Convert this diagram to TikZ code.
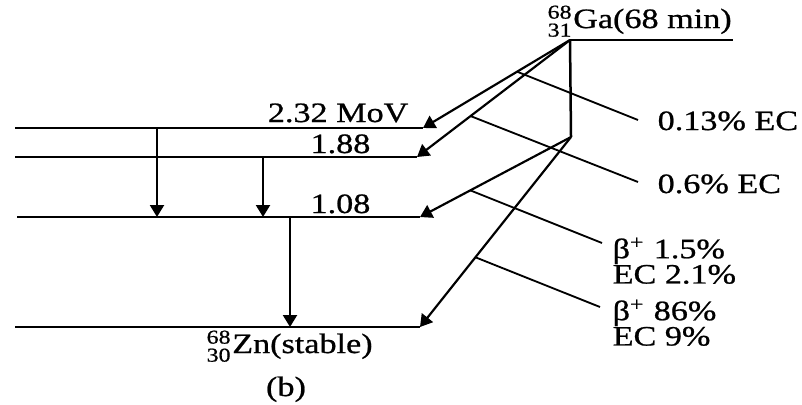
\documentclass[tikz,border=0pt]{standalone}
\usepackage{amsmath}
\usepackage{fontspec}
\setmainfont{Liberation Serif}[FakeStretch=1.22,FakeBold=0.8]
\usetikzlibrary{arrows.meta,calc}
\begin{document}
\begin{tikzpicture}[x=0.3pt,y=-0.3pt,
  level/.style={line width=0.75pt},
  trans/.style={line width=0.65pt,-{Triangle[length=3.6pt,width=4.2pt]}},
  leader/.style={line width=0.55pt},
  txt/.style={inner sep=0pt,font=\fontsize{8.4}{9}\selectfont},
  lbl/.style={txt,align=left,font=\fontsize{8.4}{7.6}\selectfont}]
\useasboundingbox (0,0) rectangle (802,404);
% levels
\coordinate (gaL) at (570,40);  \coordinate (gaR) at (733,40);
\coordinate (bend) at (571,137);
\coordinate (aL) at (15,128);  \coordinate (aR) at (423,128);
\coordinate (bL) at (15,157);  \coordinate (bR) at (417,157);
\coordinate (cL) at (17,217);  \coordinate (cR) at (420,217);
\coordinate (dL) at (15,327);  \coordinate (dR) at (420,327);
\draw[level] (gaL) -- (gaR);
\draw[level] (aL) -- (aR);
\draw[level] (bL) -- (bR);
\draw[level] (cL) -- (cR);
\draw[level] (dL) -- (dR);
% gamma transitions
\coordinate (g1a) at (157,128); \coordinate (g1b) at (157,217);
\coordinate (g2a) at (263,157); \coordinate (g2b) at (263,217);
\coordinate (g3a) at (290,217); \coordinate (g3b) at (290,327);
\draw[trans] (g1a) -- (g1b);
\draw[trans] (g2a) -- (g2b);
\draw[trans] (g3a) -- (g3b);
% decay branches
\draw[trans] (gaL) -- (aR);
\draw[trans] (gaL) -- (bR);
\draw[level] (gaL) -- (bend);
\draw[trans] (bend) -- (cR);
\draw[trans] (bend) -- (dR);
% labels
\node[txt,anchor=base west] (ga) at (547,28) {${}^{\text{68}}_{\text{31}}$Ga(68 min)};
\node[txt,anchor=base west] (zn) at (206,353) {${}^{\text{68}}_{\text{30}}$Zn(stable)};
\node[txt,anchor=base east] (la) at (409,122) {2.32 MoV};
\node[txt,anchor=base east] (lb) at (371,153) {1.88};
\node[txt,anchor=base east] (lc) at (371,213) {1.08};
\node[txt,anchor=base] (cap) at (286,396) {(b)};
% branch labels and leaders
\node[txt,anchor=base west] (t1) at (657,130) {0.13\% EC};
\node[txt,anchor=base west] (t2) at (657,193) {0.6\% EC};
\node[lbl,anchor=north west] (t3) at (612,237) {β\textsuperscript{+} 1.5\%\\EC 2.1\%};
\node[lbl,anchor=north west] (t4) at (612,299) {β\textsuperscript{+} 86\%\\EC 9\%};
\coordinate (e1) at (638,120);
\coordinate (e2) at (638,182);
\coordinate (e3) at (602,243);
\coordinate (e4) at (600,307);
\draw[leader] ($(gaL)!0.36!(aR)$) -- (e1);
\draw[leader] ($(gaL)!0.65!(bR)$) -- (e2);
\draw[leader] ($(bend)!0.667!(cR)$) -- (e3);
\draw[leader] ($(bend)!0.633!(dR)$) -- (e4);
\end{tikzpicture}
\end{document}
